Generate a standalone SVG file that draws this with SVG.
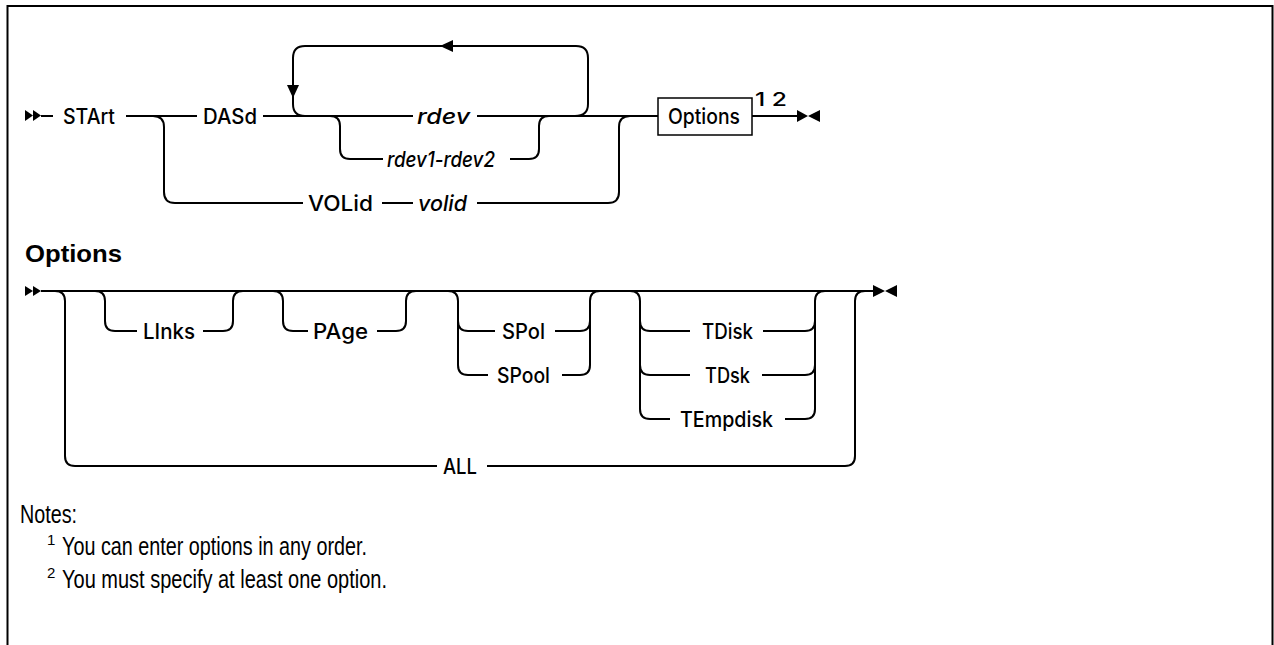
<svg xmlns="http://www.w3.org/2000/svg" width="1274" height="645" viewBox="0 0 1274 645">
<style>
.t{fill:none;stroke:#000;stroke-width:2}
.lbl{font-family:Inter,"Liberation Sans",Arial,sans-serif;font-size:21px;font-weight:500;fill:#000}
.it{font-style:italic}
.note{font-family:"Liberation Sans",Arial,sans-serif;font-size:25px;fill:#000}
.sup{font-family:"Liberation Sans",Arial,sans-serif;font-size:15px;fill:#000}
.ah{fill:#000;stroke:none}
</style>
<rect x="0" y="0" width="1274" height="645" fill="#fff"/>
<path d="M7.5,645 V6 H1272.5 V645" fill="none" stroke="#000" stroke-width="2"/>

<g id="connectors">
  <!-- top diagram -->
  <path class="t" d="M41,116 H53"/>
  <path class="t" d="M126,116 H197"/>
  <path class="t" d="M263,116 H413"/>
  <path class="t" d="M477,116 H658"/>
  <path class="t" d="M752,116 H797"/>
  <path class="t" d="M575,116 Q588,116 588,104 V58 Q588,46 576,46 H305 Q293,46 293,58 V104 Q293,116 305,116"/>
  <path class="t" d="M330,116 Q340,116 340,126 V149 Q340,159 350,159 H383"/>
  <path class="t" d="M510,159 H529 Q539,159 539,149 V126 Q539,116 549,116"/>
  <path class="t" d="M153,116 Q164,116 164,127 V192 Q164,203 175,203 H303"/>
  <path class="t" d="M382,203 H413"/>
  <path class="t" d="M477,203 H608 Q619,203 619,192 V127 Q619,116 630,116"/>
  <polygon class="ah" points="25,110 33,115.5 25,121"/>
  <polygon class="ah" points="33,110 41,115.5 33,121"/>
  <polygon class="ah" points="797,110 808,116 797,122"/>
  <polygon class="ah" points="820,110 808,116 820,122"/>
  <polygon class="ah" points="287,85 299,85 293,98"/>
  <polygon class="ah" points="440,46 453,40 453,52"/>
  <!-- bottom diagram -->
  <path class="t" d="M41,291 H873"/>
  <path class="t" d="M55,291 Q65,291 65,301 V456 Q65,466 75,466 H437"/>
  <path class="t" d="M487,466 H845 Q855,466 855,456 V301 Q855,291 865,291"/>
  <path class="t" d="M95,291 Q105,291 105,301 V321 Q105,331 115,331 H137"/>
  <path class="t" d="M203,331 H223 Q233,331 233,321 V301 Q233,291 243,291"/>
  <path class="t" d="M273,291 Q283,291 283,301 V321 Q283,331 293,331 H308"/>
  <path class="t" d="M377,331 H396 Q406,331 406,321 V301 Q406,291 416,291"/>
  <path class="t" d="M448,291 Q458,291 458,301 V321 Q458,331 468,331 H495"/>
  <path class="t" d="M555,331 H580 Q590,331 590,321 V301 Q590,291 600,291"/>
  <path class="t" d="M458,321 V365 Q458,375 468,375 H488"/>
  <path class="t" d="M562,375 H580 Q590,375 590,365 V321"/>
  <path class="t" d="M630,291 Q640,291 640,301 V321 Q640,331 650,331 H690"/>
  <path class="t" d="M763,331 H805 Q815,331 815,321 V301 Q815,291 825,291"/>
  <path class="t" d="M640,321 V365 Q640,375 650,375 H690"/>
  <path class="t" d="M762,375 H805 Q815,375 815,365 V321"/>
  <path class="t" d="M640,365 V409 Q640,419 650,419 H670"/>
  <path class="t" d="M785,419 H805 Q815,419 815,409 V365"/>
  <polygon class="ah" points="25,286 33,291 25,296"/>
  <polygon class="ah" points="33,286 41,291 33,296"/>
  <polygon class="ah" points="873,285 885,291 873,297"/>
  <polygon class="ah" points="897,285 885,291 897,297"/>
</g>

<g id="n-start"><text class="lbl" x="63" y="123.5" textLength="52" lengthAdjust="spacingAndGlyphs">STArt</text></g>
<g id="n-dasd"><text class="lbl" x="203" y="123.5" textLength="54" lengthAdjust="spacingAndGlyphs">DASd</text></g>
<g id="n-rdev"><text class="lbl it" x="417" y="123.5" textLength="53" lengthAdjust="spacingAndGlyphs">rdev</text></g>
<g id="n-rdev12"><text class="lbl it" x="387" y="166.5" textLength="108" lengthAdjust="spacingAndGlyphs">rdev1-rdev2</text></g>
<g id="n-volid-kw"><text class="lbl" x="308" y="210.5" textLength="65" lengthAdjust="spacingAndGlyphs">VOLid</text></g>
<g id="n-volid"><text class="lbl it" x="418" y="210.5" textLength="49" lengthAdjust="spacingAndGlyphs">volid</text></g>
<g id="n-options">
  <rect x="658" y="98" width="94" height="37" fill="#fff" stroke="#000" stroke-width="1.5"/>
  <text class="lbl" x="668" y="123.5" textLength="72" lengthAdjust="spacingAndGlyphs">Options</text>
  <text class="lbl" style="font-size:19px" x="755" y="106" textLength="32" lengthAdjust="spacingAndGlyphs">1 2</text>
</g>

<g id="n-options-title"><text class="note" style="font-weight:bold;font-size:24px" x="25" y="262" textLength="97" lengthAdjust="spacingAndGlyphs">Options</text></g>
<g id="n-links"><text class="lbl" x="143" y="338.5" textLength="52" lengthAdjust="spacingAndGlyphs">LInks</text></g>
<g id="n-page"><text class="lbl" x="313" y="338.5" textLength="55" lengthAdjust="spacingAndGlyphs">PAge</text></g>
<g id="n-spol"><text class="lbl" x="502" y="338.5" textLength="43" lengthAdjust="spacingAndGlyphs">SPol</text></g>
<g id="n-spool"><text class="lbl" x="497" y="382.5" textLength="53" lengthAdjust="spacingAndGlyphs">SPool</text></g>
<g id="n-tdisk"><text class="lbl" x="702" y="338.5" textLength="51" lengthAdjust="spacingAndGlyphs">TDisk</text></g>
<g id="n-tdsk"><text class="lbl" x="705" y="382.5" textLength="45" lengthAdjust="spacingAndGlyphs">TDsk</text></g>
<g id="n-tempdisk"><text class="lbl" x="680" y="426.5" textLength="93" lengthAdjust="spacingAndGlyphs">TEmpdisk</text></g>
<g id="n-all"><text class="lbl" x="443" y="473.5" textLength="34" lengthAdjust="spacingAndGlyphs">ALL</text></g>

<g id="notes">
  <text class="note" x="20" y="523" textLength="57" lengthAdjust="spacingAndGlyphs">Notes:</text>
  <text class="sup" x="47" y="545">1</text>
  <text class="note" x="62" y="555" textLength="305" lengthAdjust="spacingAndGlyphs">You can enter options in any order.</text>
  <text class="sup" x="47" y="578">2</text>
  <text class="note" x="62" y="588" textLength="325" lengthAdjust="spacingAndGlyphs">You must specify at least one option.</text>
</g>
</svg>
